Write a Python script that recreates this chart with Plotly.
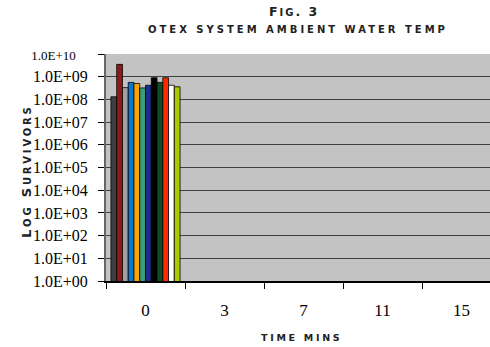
import plotly.graph_objects as go

categories = ["0", "3", "7", "11", "15"]
series_names = ["S1", "S2", "S3", "S4", "S5", "S6", "S7", "S8", "S9", "S10", "S11", "S12"]
series_values = [1.3e8, 3.5e9, 3.3e8, 5.6e8, 5.0e8, 3.2e8, 4.2e8, 9.0e8, 5.6e8, 9.0e8, 4.2e8, 3.6e8]
series_colors = ["#3f3f3f", "#8b1a1a", "#a0a0a0", "#0a78d2", "#ffa500", "#3a9e7a",
                 "#1c2f91", "#000000", "#0a5020", "#ff2a00", "#ffffff", "#a8cc00"]
y_tick_vals = [10 ** k for k in range(11)]
y_tick_text = ["1.0E+%02d" % k for k in range(11)]
y_tick_text[-1] = "<span style='font-size:13px'>1.0E+10</span>&nbsp;&nbsp;&nbsp;"

fig = go.Figure()
for name, val, col in zip(series_names, series_values, series_colors):
    fig.add_trace(go.Bar(
        x=categories, y=[val, None, None, None, None], name=name,
        marker=dict(color=col, line=dict(color="#000000", width=0.8)),
    ))

fig.update_layout(
    width=490, height=347,
    margin=dict(l=106, r=0, t=54, b=66),
    paper_bgcolor="white", plot_bgcolor="#c3c3c3",
    barmode="group", bargap=0.125, bargroupgap=0,
    showlegend=False,
    font=dict(family="Liberation Serif", color="black"),
)
fig.update_xaxes(
    type="category", range=[-0.5, 4.36],
    showline=True, linecolor="black", linewidth=1.5,
    ticks="outside", ticklen=6, tickcolor="black", tickson="boundaries",
    tickfont=dict(family="Liberation Serif", size=17, color="black"),
    ticklabelstandoff=13, showgrid=False,
)
fig.update_yaxes(
    type="log", range=[0, 10],
    tickvals=y_tick_vals, ticktext=y_tick_text,
    showline=True, linecolor="#666666", linewidth=2,
    ticks="outside", ticklen=6, tickcolor="black",
    tickfont=dict(family="Liberation Serif", size=16, color="black"),
    ticklabelstandoff=7,
    showgrid=True, gridcolor="#404040", gridwidth=1.2, zeroline=False,
)

sc_font = dict(family="DejaVu Sans", color="#222222", weight="bold")
fig.add_annotation(
    text="<span style='letter-spacing:2px'>F<span style='font-size:10px'>IG</span>. 3</span>",
    xref="paper", yref="paper", x=0.49, y=(281 - 12) / 227, xanchor="center", yanchor="middle",
    showarrow=False, font=dict(size=12.5, **sc_font),
)
fig.add_annotation(
    text="<span style='letter-spacing:3px'>OTEX SYSTEM AMBIENT WATER TEMP</span>",
    xref="paper", yref="paper", x=0.50, y=(281 - 29) / 227, xanchor="center", yanchor="middle",
    showarrow=False, font=dict(size=10, **sc_font),
)
fig.add_annotation(
    text="<span style='letter-spacing:2.8px'>L<span style='font-size:10px'>OG</span> S<span style='font-size:10px'>URVIVORS</span></span>",
    xref="paper", yref="paper", x=-0.2057, y=0.4846, xanchor="center", yanchor="middle",
    textangle=-90, showarrow=False, font=dict(size=13, **sc_font),
)
fig.add_annotation(
    text="<span style='letter-spacing:2.7px'>TIME MINS</span>",
    xref="paper", yref="paper", x=0.5104, y=-0.251, xanchor="center", yanchor="middle",
    showarrow=False, font=dict(size=9.5, **sc_font),
)

fig.write_html("out.html")
